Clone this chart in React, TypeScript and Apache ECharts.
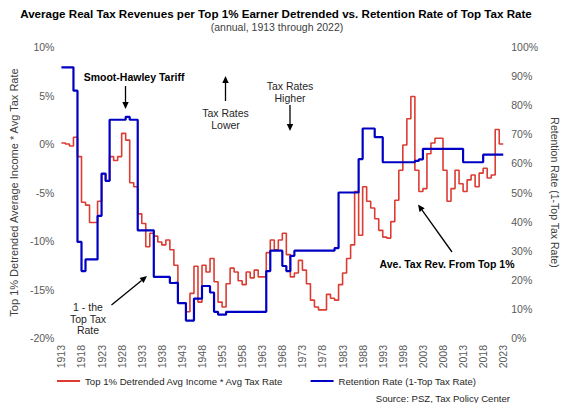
import React, { useEffect, useRef } from "react";
import * as echarts from "echarts";

// Calendar years on the category axis (the last entry closes the final step)
const years: string[] = Array.from({ length: 111 }, (_, i) => String(1913 + i));

// Top 1% detrended average income * average tax rate (%), 1913–2022
const revenueIndex: number[] = [
  0.1, 0.0, -0.2, 0.7, -1.3, -6.0, -6.3, -8.1, -8.1, -5.9,
  -3.1, -3.8, -1.3, -1.7, -1.3, 1.1, 0.4, -4.0, -4.4, -7.2,
  -8.2, -10.6, -9.2, -9.5, -10.1, -10.4, -9.9, -10.9, -12.5, -16.4,
  -16.4, -17.3, -15.4, -12.6, -16.3, -12.5, -13.2, -11.8, -14.2, -16.3,
  -16.8, -14.4, -12.8, -13.2, -14.1, -14.5, -13.2, -13.8, -13.0, -13.7,
  -13.7, -11.2, -9.9, -10.9, -9.9, -9.2, -11.4, -13.7, -13.3, -12.0,
  -13.0, -14.4, -16.1, -16.8, -17.1, -17.1, -15.5, -15.9, -16.1, -14.5,
  -13.3, -11.8, -10.4, -4.9, -9.4, -4.4, -5.9, -6.6, -7.7, -8.9,
  -9.6, -9.7, -8.0, -5.8, -2.7, -0.1, 2.6, 4.9, -2.7, -4.9,
  -4.6, -1.0, 0.1, 0.6, 0.6, -2.7, -5.9, -4.6, -2.7, -4.1,
  -4.9, -3.7, -3.2, -4.4, -3.0, -2.5, -3.5, -3.2, 1.5, 0.0,
];

// Retention rate, 100% minus the top marginal tax rate (%), 1913–2022
const retentionRate: number[] = [
  93, 93, 93, 85, 33, 23, 27, 27, 27, 42,
  56.5, 54, 75, 75, 75, 75, 76, 75, 75, 37,
  37, 37, 37, 21, 21, 21, 21, 18.9, 19, 12,
  12, 6, 6, 13.55, 13.55, 17.87, 17.87, 15.64, 9, 8,
  8, 9, 9, 9, 9, 9, 9, 9, 9, 9,
  9, 23, 30, 30, 30, 24.75, 23, 28.25, 30, 30,
  30, 30, 30, 30, 30, 30, 30, 30, 30.88, 50,
  50, 50, 50, 50, 61.5, 72, 72, 72, 69, 69,
  60.4, 60.4, 60.4, 60.4, 60.4, 60.4, 60.4, 60.4, 60.9, 61.4,
  65, 65, 65, 65, 65, 65, 65, 65, 65, 65,
  60.4, 60.4, 60.4, 60.4, 60.4, 63, 63, 63, 63, 63,
];

const leftTicks = { min: -20, max: 10, interval: 5 };
const rightTicks = { min: 0, max: 100, interval: 10 };

const FONT = "'Liberation Sans', Arial, sans-serif";
const RED = "#dc3c32";
const BLUE = "#0000c4";

// Extend a step series by one point so the last year is drawn as a full step
const closeStep = (arr: number[]) => [...arr, arr[arr.length - 1]];

function arrow(x1: number, y1: number, x2: number, y2: number) {
  const a = Math.atan2(y2 - y1, x2 - x1);
  const len = 7;
  const half = 3.2;
  const c = Math.cos(a);
  const s = Math.sin(a);
  const bx = x2 - len * c;
  const by = y2 - len * s;
  return [
    {
      type: "line",
      shape: { x1, y1, x2: bx, y2: by },
      style: { stroke: "#000", lineWidth: 1.3 },
      silent: true,
    },
    {
      type: "polygon",
      shape: {
        points: [
          [x2, y2],
          [bx + half * s, by - half * c],
          [bx - half * s, by + half * c],
        ],
      },
      style: { fill: "#000" },
      silent: true,
    },
  ];
}

function label(text: string, x: number, y: number, opts: any = {}) {
  return {
    type: "text",
    x,
    y,
    silent: true,
    style: {
      text,
      fill: opts.fill || "#262626",
      fontSize: opts.fontSize || 10.5,
      fontWeight: opts.fontWeight || "normal",
      fontFamily: FONT,
      align: opts.align || "center",
      verticalAlign: "middle",
      textAlign: opts.align || "center",
      textVerticalAlign: "middle",
      lineHeight: opts.lineHeight || 11.5,
    },
  };
}

export default function App() {
  const ref = useRef<HTMLDivElement>(null);

  useEffect(() => {
    if (!ref.current) return;
    const chart = echarts.init(ref.current, undefined, { renderer: "svg" });

    chart.setOption({
      animation: false,
      backgroundColor: "#ffffff",
      textStyle: { fontFamily: FONT },
      grid: { left: 59, right: 55, top: 47, bottom: 73, containLabel: false },
      legend: {
        left: 57,
        top: 376,
        padding: 0,
        icon: "rect",
        itemWidth: 23,
        itemHeight: 2,
        itemGap: 27,
        textStyle: { fontSize: 9.6, color: "#262626", fontFamily: FONT },
        data: [
          "Top 1% Detrended Avg Income * Avg Tax Rate",
          "Retention Rate (1-Top Tax Rate)",
        ],
      },
      xAxis: {
        type: "category",
        data: years,
        boundaryGap: false,
        axisLine: { show: false },
        axisTick: { show: false },
        axisLabel: {
          interval: 4,
          rotate: 90,
          margin: 7,
          fontSize: 10.5,
          color: "#595959",
          fontFamily: FONT,
        },
      },
      yAxis: [
        {
          type: "value",
          ...leftTicks,
          name: "Top 1% Detrended Average Income * Avg Tax Rate",
          nameLocation: "middle",
          nameGap: 41,
          nameTextStyle: { fontSize: 11, color: "#404040", fontFamily: FONT },
          axisLine: { show: false },
          axisTick: { show: false },
          splitLine: { show: false },
          axisLabel: {
            formatter: "{value}%",
            margin: 7,
            fontSize: 10.5,
            color: "#595959",
            fontFamily: FONT,
          },
        },
        {
          type: "value",
          ...rightTicks,
          position: "right",
          name: "Retention Rate (1-Top Tax Rate)",
          nameLocation: "middle",
          nameRotate: -90,
          nameGap: 42,
          nameTextStyle: { fontSize: 10.5, color: "#404040", fontFamily: FONT },
          axisLine: { show: false },
          axisTick: { show: false },
          splitLine: { show: false },
          axisLabel: {
            formatter: "{value}%",
            margin: 8,
            fontSize: 10.5,
            color: "#595959",
            fontFamily: FONT,
          },
        },
      ],
      series: [
        {
          name: "Top 1% Detrended Avg Income * Avg Tax Rate",
          type: "line",
          step: "end",
          yAxisIndex: 0,
          data: closeStep(revenueIndex),
          showSymbol: false,
          itemStyle: { color: RED },
          lineStyle: { color: RED, width: 1.6 },
          z: 2,
        },
        {
          name: "Retention Rate (1-Top Tax Rate)",
          type: "line",
          step: "end",
          yAxisIndex: 1,
          data: closeStep(retentionRate),
          showSymbol: false,
          itemStyle: { color: BLUE },
          lineStyle: { color: BLUE, width: 2.2 },
          z: 3,
        },
      ],
      graphic: [
        label(
          "Average Real Tax Revenues per Top 1% Earner Detrended vs. Retention Rate of Top Tax Rate",
          276,
          13,
          { fontSize: 11.6, fontWeight: "bold", fill: "#000" }
        ),
        label("(annual, 1913 through 2022)", 277, 27, { fontSize: 10.5, fill: "#404040" }),
        label("Smoot-Hawley Tariff", 134, 77, { fontWeight: "bold", fill: "#000" }),
        ...arrow(125.5, 86, 125.5, 109),
        label("Tax Rates\nLower", 225.5, 119, { lineHeight: 12 }),
        ...arrow(225.5, 101, 225.5, 76),
        label("Tax Rates\nHigher", 290, 92, { lineHeight: 11.5 }),
        ...arrow(290, 105, 290, 131),
        label("1 - the\nTop Tax\nRate", 88, 318.5, { lineHeight: 11.5 }),
        ...arrow(111.5, 305, 147, 276),
        label("Ave. Tax Rev. From Top 1%", 447, 263.5, { fontWeight: "bold", fill: "#000" }),
        ...arrow(452, 252, 418, 204.5),
        label("Source: PSZ, Tax Policy Center", 510, 398, { align: "right", fontSize: 9.6 }),
      ],
    });

    return () => chart.dispose();
  }, []);

  return <div ref={ref} style={{ width: 568, height: 411, margin: -8 }} />;
}
